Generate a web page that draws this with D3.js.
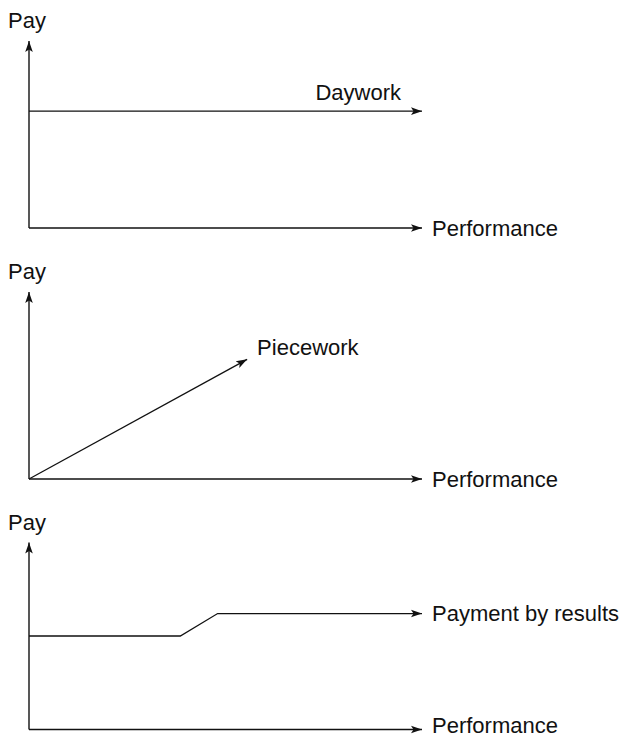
<!DOCTYPE html>
<html>
<head>
<meta charset="utf-8">
<script src="https://cdn.jsdelivr.net/npm/d3@7/dist/d3.min.js"></script>
<style>
  body { margin:0; background:#fff; }
  svg text { font-family:"Liberation Sans", Arial, sans-serif; font-size:22px; fill:#111; }
</style>
</head>
<body>
<svg id="chart" width="627" height="738"></svg>
<script>
// the three pay schemes (performance 0-100, pay 0-100)
var schemes = ["Daywork", "Piecework", "Payment by results"];
var dayworkPts = [[0, 62.5], [100, 62.5]];
var pieceworkPts = [[0, 0], [55.5, 64]];
var pbrPts = [[0, 50], [38.5, 50], [48, 62], [100, 62]];
var axisX = "Performance", axisY = "Pay";

var series = [dayworkPts, pieceworkPts, pbrPts];
var panelBase = [228, 479, 729.5];   // baseline of each panel

var svg = d3.select("#chart");
var defs = svg.append("defs");
defs.append("marker")
    .attr("id", "arrow")
    .attr("viewBox", "0 -5 12 10")
    .attr("refX", 11).attr("refY", 0)
    .attr("markerWidth", 12).attr("markerHeight", 10)
    .attr("markerUnits", "userSpaceOnUse")
    .attr("orient", "auto")
  .append("path")
    .attr("d", "M0,-3.8L11,0L0,3.8L2.5,0Z")
    .attr("fill", "#111");

var x = d3.scaleLinear().domain([0, 100]).range([29, 422]);

var line = d3.line();

var panels = svg.selectAll(".panel")
    .data(schemes)
    .enter().append("g")
    .attr("class", "panel")
    .each(function(name, i) {
        var g = d3.select(this);
        var base = panelBase[i];
        var y = d3.scaleLinear().domain([0, 100]).range([base, base - 187]);

        // axes
        g.append("line")
            .attr("x1", x(0)).attr("y1", y(0)).attr("x2", x(0)).attr("y2", y(100))
            .attr("stroke", "#111").attr("stroke-width", 1.4)
            .attr("marker-end", "url(#arrow)");
        g.append("line")
            .attr("x1", x(0)).attr("y1", y(0)).attr("x2", x(100)).attr("y2", y(0))
            .attr("stroke", "#111").attr("stroke-width", 1.4)
            .attr("marker-end", "url(#arrow)");
        g.append("text")
            .attr("x", 8).attr("y", y(100) - 13)
            .text(axisY);
        // last panel sits on the bottom edge, lift its label a touch
        g.append("text")
            .attr("x", x(100) + 10).attr("y", y(0))
            .attr("dy", i == 2 ? "0.15em" : "0.35em")
            .text(axisX);

        // scheme line
        var pts = series[i].map(function(p) { return [x(p[0]), y(p[1])]; });
        g.append("path")
            .attr("d", line(pts))
            .attr("fill", "none")
            .attr("stroke", "#111").attr("stroke-width", 1.3)
            .attr("marker-end", "url(#arrow)");

        var last = pts[pts.length - 1];
        var lab = g.append("text").text(name);
        if (i == 0) {
            lab.attr("x", last[0] - 21).attr("y", last[1] - 11).attr("text-anchor", "end");
        } else if (i == 1) {
            lab.attr("x", last[0] + 10).attr("y", last[1] - 4);
        } else {
            lab.attr("x", last[0] + 10).attr("y", last[1]).attr("dy", "0.35em");
        }
    });
</script>
</body>
</html>
